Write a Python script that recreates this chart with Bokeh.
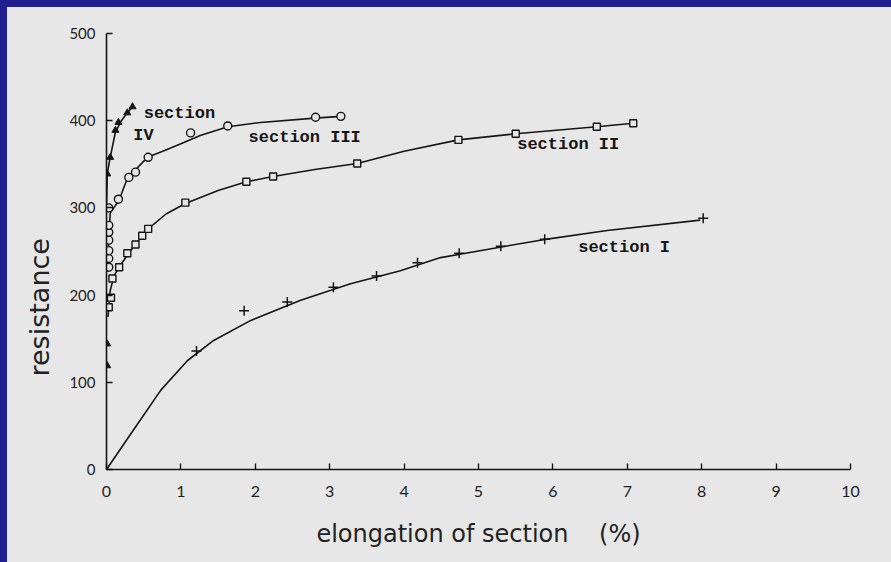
from bokeh.plotting import figure
from bokeh.models import Range1d, Label, FixedTicker, GlobalInlineStyleSheet, Title
from bokeh.embed import file_html
from bokeh.resources import INLINE

# ---- data ----
x_ticks = [0, 1, 2, 3, 4, 5, 6, 7, 8, 9, 10]
y_ticks = [0, 100, 200, 300, 400, 500]

sec1_x = [1.21, 1.85, 2.43, 3.05, 3.63, 4.18, 4.74, 5.30, 5.89, 8.02]
sec1_y = [136, 182, 192, 209, 222, 237, 248, 256, 264, 288]
curve1_x = [0, 0.36, 0.73, 1.09, 1.44, 1.94, 2.61, 3.28, 3.95, 4.49, 5.83, 6.73, 7.98]
curve1_y = [0, 45, 91, 125, 148, 171, 194, 213, 228, 243, 263, 274, 286]

sec2_x = [0.03, 0.06, 0.08, 0.17, 0.28, 0.39, 0.48, 0.56, 1.06, 1.88, 2.24, 3.37, 4.73, 5.50, 6.59, 7.08]
sec2_y = [186, 197, 219, 232, 248, 258, 268, 276, 306, 330, 336, 351, 378, 385, 393, 397]
curve2_x = [0.02, 0.05, 0.10, 0.20, 0.35, 0.56, 0.80, 1.06, 1.50, 1.88, 2.24, 2.80, 3.37, 4.00, 4.73, 5.50, 6.59, 7.08]
curve2_y = [175, 205, 222, 236, 254, 276, 293, 305, 320, 330, 336, 344, 351, 365, 378, 385, 393, 397]

sec3_x = [0.03, 0.03, 0.03, 0.03, 0.03, 0.03, 0.03, 0.16, 0.30, 0.39, 0.56, 1.13, 1.63, 2.81, 3.15]
sec3_y = [232, 242, 251, 263, 272, 280, 300, 310, 335, 341, 358, 386, 394, 404, 405]
curve3_x = [0.01, 0.05, 0.17, 0.28, 0.55, 0.79, 1.04, 1.26, 1.63, 2.07, 2.80, 3.15]
curve3_y = [230, 294, 309, 334, 358, 366, 375, 383, 393, 398, 403, 405]

sec4_x = [0.01, 0.01, 0.01, 0.05, 0.12, 0.16, 0.28, 0.35]
sec4_y = [119, 144, 339, 358, 389, 398, 409, 416]
curve4_x = [0.0, 0.01, 0.05, 0.12, 0.20, 0.28, 0.35]
curve4_y = [300, 339, 358, 387, 400, 409, 416]

labels_text = ["section", "IV", "section III", "section II", "section I"]
labels_x = [0.50, 0.36, 1.91, 5.52, 6.34]
labels_y = [408, 383, 381, 373, 255]

BG = "#e7e7e7"
BLUE = "#1f1f8f"
INK = "#151515"

css = GlobalInlineStyleSheet(css=(
    "html{background:linear-gradient(to right,%s 7px,rgba(0,0,0,0) 7px),"
    "linear-gradient(to bottom,%s 7px,%s 7px);}"
    "body{padding:7px 0 0 7px !important;}" % (BLUE, BLUE, BG)))

p = figure(width=884, height=555, x_range=Range1d(0, 10), y_range=Range1d(0, 500),
           output_backend="svg", toolbar_location=None,
           min_border_left=99, min_border_right=41, min_border_top=26, min_border_bottom=93,
           background_fill_color=BG, border_fill_color=BG, outline_line_color=None)
p.stylesheets = [css]
p.grid.visible = False

for ax in (p.xaxis[0], p.yaxis[0]):
    ax.axis_line_color = INK
    ax.axis_line_width = 1.6
    ax.major_tick_line_color = INK
    ax.major_tick_line_width = 1.4
    ax.major_tick_in = 6
    ax.major_tick_out = 0
    ax.minor_tick_line_color = None
    ax.major_label_text_font = "Lato"
    ax.major_label_text_color = "#222222"

p.xaxis.ticker = FixedTicker(ticks=x_ticks)
p.yaxis.ticker = FixedTicker(ticks=y_ticks)
p.xaxis.major_label_text_font_size = "16px"
p.yaxis.major_label_text_font_size = "15px"
p.xaxis.major_label_standoff = 16
p.yaxis.major_label_standoff = 11

p.xaxis.axis_label = "elongation of section\u00a0\u00a0\u00a0\u00a0(%)"
p.xaxis.axis_label_text_font = "DejaVu Sans"
p.xaxis.axis_label_text_font_style = "normal"
p.xaxis.axis_label_text_font_size = "24px"
p.xaxis.axis_label_text_color = "#222222"
p.xaxis.axis_label_standoff = 20

p.add_layout(Title(text="resistance", align="left", offset=93, vertical_align="middle",
                   text_font="DejaVu Sans", text_font_style="normal", text_font_size="27px",
                   text_color="#222222", standoff=22), "left")

# curves
for cx, cy in ((curve1_x, curve1_y), (curve2_x, curve2_y), (curve3_x, curve3_y), (curve4_x, curve4_y)):
    p.line(cx, cy, line_color=INK, line_width=1.6)

# markers
p.scatter(sec1_x, sec1_y, marker="cross", size=10, line_color=INK, line_width=1.5)
p.scatter(sec2_x, sec2_y, marker="square", size=7, line_color=INK, line_width=1.4, fill_color=BG)
p.scatter(sec3_x, sec3_y, marker="circle", size=8, line_color=INK, line_width=1.4, fill_color=BG)
p.scatter(sec4_x, sec4_y, marker="triangle", size=7, line_color=INK, line_width=1.0, fill_color=INK)

for t, lx, ly in zip(labels_text, labels_x, labels_y):
    p.add_layout(Label(x=lx, y=ly, text=t, text_font="Liberation Mono", text_font_style="bold",
                       text_font_size="17px", text_color=INK, text_align="left",
                       text_baseline="middle"))

open("out.html", "w").write(file_html(p, INLINE))
